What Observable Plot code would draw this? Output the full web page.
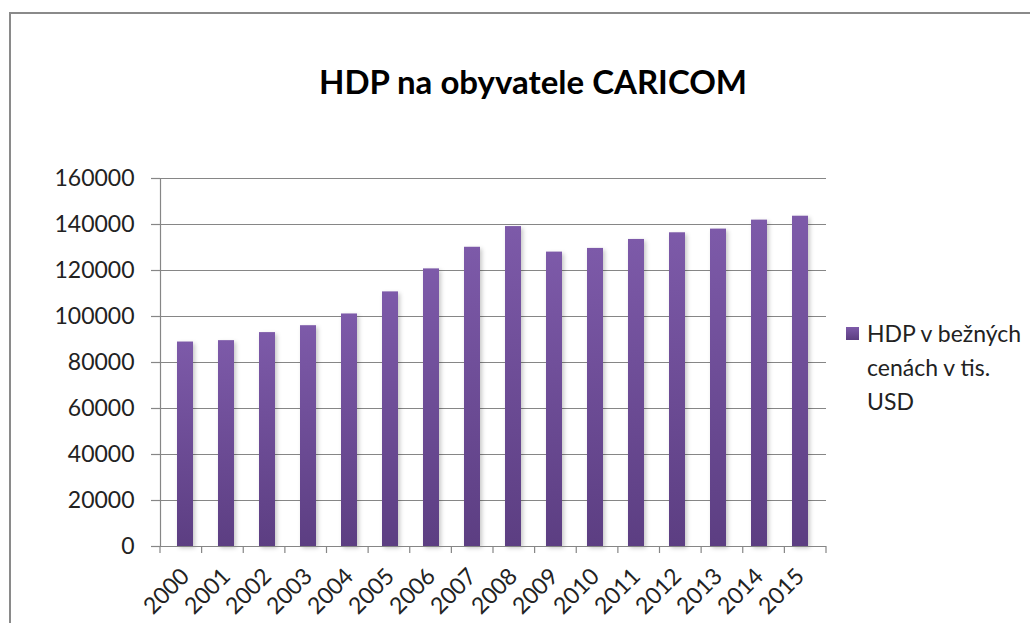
<!DOCTYPE html>
<html>
<head>
<meta charset="utf-8">
<script src="https://cdn.jsdelivr.net/npm/d3@7"></script>
<script src="https://cdn.jsdelivr.net/npm/@observablehq/plot@0.6"></script>
<style>
  body { margin: 0; background: #fff; font-family: Lato, "DejaVu Sans", sans-serif; }
  #wrap { position: relative; width: 1030px; height: 623px; overflow: hidden; background: #fff; }
  #border { position: absolute; left: 9px; top: 12px; width: 1060px; height: 700px; border: 2px solid #8a8a8a; box-sizing: border-box; }
  #chart { position: absolute; left: 0; top: 0; }
  #title { position: absolute; left: 0; width: 1066px; top: 61px; text-align: center; font-weight: bold; font-size: 33px; color: #000; line-height: 40px; white-space: nowrap; }
  #legend { position: absolute; left: 846px; top: 316px; font-size: 23px; line-height: 34px; color: #222; }
  #legend .sw { position: absolute; left: 0; top: 11px; width: 13px; height: 13px; background: linear-gradient(#7d5aa9, #5b3d80); }
  #legend .tx { position: absolute; left: 21px; top: 0; white-space: nowrap; }
  g[aria-label="bar"] rect { filter: drop-shadow(2px 2px 2px rgba(0,0,0,0.22)); }
</style>
</head>
<body>
<div id="wrap">
  <div id="border"></div>
  <div id="chart"></div>
  <div id="title"></div>
  <div id="legend"><div class="sw"></div><div class="tx"></div></div>
</div>
<script>
const titleText = "HDP na obyvatele CARICOM";
const legendLines = ["HDP v bežných", "cenách v tis.", "USD"];
const years = ["2000","2001","2002","2003","2004","2005","2006","2007","2008","2009","2010","2011","2012","2013","2014","2015"];
const values = [88900, 89500, 93000, 96000, 101100, 110700, 120700, 130100, 139100, 128000, 129600, 133500, 136400, 138000, 141900, 143600];
const yTicks = [0, 20000, 40000, 60000, 80000, 100000, 120000, 140000, 160000];

const data = years.map((year, i) => ({year, value: values[i]}));

document.getElementById("title").textContent = titleText;
document.querySelector("#legend .tx").innerHTML = legendLines.map(s => s.replace(/&/g,"&amp;").replace(/</g,"&lt;")).join("<br>");

const axisColor = "#868686";

const defs = () => {
  const d = d3.create("svg:defs");
  const g = d.append("linearGradient").attr("id", "barGrad").attr("x1", 0).attr("y1", 0).attr("x2", 0).attr("y2", 1);
  g.append("stop").attr("offset", "0%").attr("stop-color", "#7d5aa9");
  g.append("stop").attr("offset", "100%").attr("stop-color", "#5c3e82");
  return d.node();
};

const boundaryTicks = (index, scales, values, dims) => {
  const g = d3.create("svg:g").attr("stroke", axisColor).attr("stroke-width", 1.2);
  const x0 = dims.marginLeft, x1 = dims.width - dims.marginRight;
  const step = (x1 - x0) / years.length;
  const y0 = scales.y(0);
  for (let i = 0; i <= years.length; i++) {
    g.append("line").attr("x1", x0 + i * step).attr("x2", x0 + i * step).attr("y1", y0).attr("y2", y0 + 7);
  }
  return g.node();
};

const chart = Plot.plot({
  width: 850,
  height: 623,
  marginLeft: 160,
  marginRight: 24,
  marginTop: 178,
  marginBottom: 77,
  style: {fontFamily: "Lato, sans-serif", fontSize: "23px", color: "#222", background: "transparent", overflow: "visible"},
  x: {domain: years, paddingInner: 0.6, paddingOuter: 0.3, label: null},
  y: {domain: [0, 160000], label: null},
  marks: [
    defs,
    Plot.gridY(yTicks, {stroke: axisColor, strokeOpacity: 1, strokeWidth: 1.2}),
    Plot.barY(data, {x: "year", y: "value", fill: "url(#barGrad)"}),
    Plot.frame({anchor: "left", stroke: axisColor, strokeWidth: 1.2}),
    Plot.ruleY([0], {stroke: axisColor, strokeWidth: 1.2}),
    boundaryTicks,
    Plot.axisY(yTicks, {tickSize: 9, tickPadding: 17, stroke: axisColor, strokeWidth: 1.2, tickFormat: d => String(d), fontSize: 23, fill: "#222", label: null}),
    Plot.axisX({tickSize: 0, tickRotate: -45, tickPadding: 26, dx: 0, fontSize: 23, fill: "#222", label: null})
  ]
});
document.getElementById("chart").appendChild(chart);
</script>
</body>
</html>
